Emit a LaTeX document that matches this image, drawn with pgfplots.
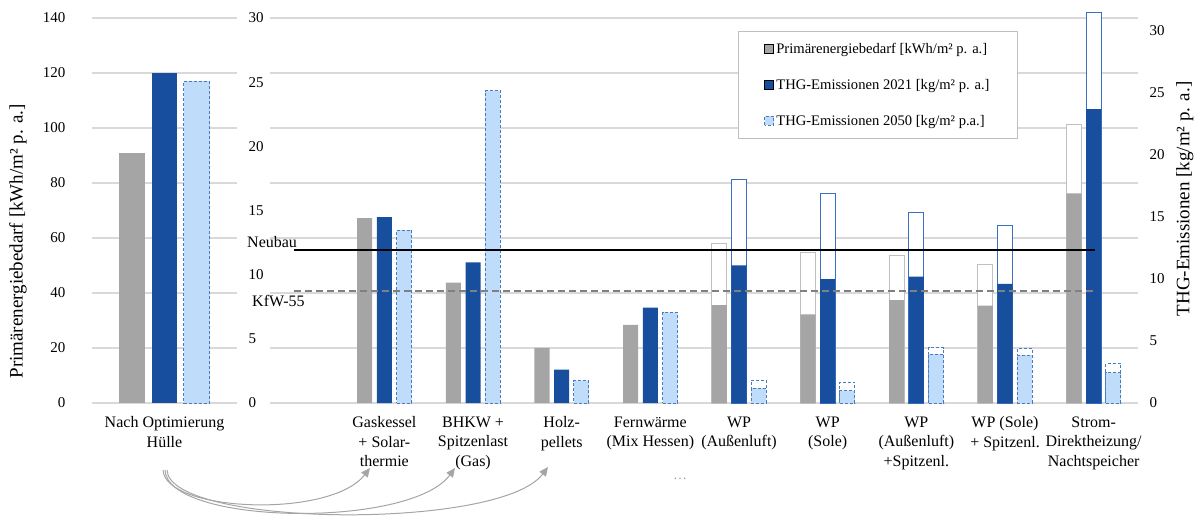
\documentclass[border=0pt]{standalone}
\usepackage{pgfplots}
\pgfplotsset{compat=1.18}
\usepackage{fontspec}
\setmainfont{Liberation Serif}
\usetikzlibrary{arrows.meta}

\definecolor{pgrey}{RGB}{165,165,165}
\definecolor{pblue}{RGB}{24,78,158}
\definecolor{pblueline}{RGB}{58,112,192}
\definecolor{plight}{RGB}{191,221,250}
\definecolor{plightline}{RGB}{72,122,192}
\definecolor{gridc}{RGB}{217,217,217}
\definecolor{arrowc}{RGB}{165,165,165}

\pgfplotsset{
  base/.style={scale only axis, height=385pt, ymin=0,
    /pgf/number format/assume math mode=true,
    major tick length=0pt, tick style={draw=none},
    axis line style={draw=none},
    ticklabel style={font=\fontsize{15}{18}\selectfont},
    grid style={gridc, line width=1.1pt}},
  sgrey/.style={fill=pgrey, draw=none},
  ogrey/.style={fill=white, draw=pgrey!70, line width=1pt, forget plot},
  sblue/.style={fill=pblue, draw=none},
  oblue/.style={fill=white, draw=pblueline, line width=1.2pt, forget plot},
  slight/.style={fill=plight, draw=plightline, line width=1pt, dash pattern=on 3pt off 2pt},
  olight/.style={fill=white, draw=plightline, line width=1pt, dash pattern=on 3pt off 2pt, forget plot},
  sqlegend/.style={legend image code/.code={\draw[##1] (0pt,-4.5pt) rectangle (9pt,4.5pt);}},
}

\begin{document}
\begin{tikzpicture}
\useasboundingbox (0,0) rectangle (1201pt,517pt);

% grid lines of the right part (Primärenergie scale)
\begin{axis}[base, at={(270pt,114pt)}, anchor=south west, width=868pt,
    xmin=0, xmax=1, ymax=140, ytick={0,20,...,140}, yticklabels={},
    ymajorgrids, xtick=\empty]
  \addplot[draw=none] coordinates {(0,0)};
\end{axis}

% inner left scale 0..30
\begin{axis}[base, at={(270pt,114pt)}, anchor=south west, width=868pt,
    xmin=0, xmax=1, ymax=30, ytick={0,5,...,30}, xtick=\empty,
    yticklabel style={anchor=west, xshift=-25pt}]
  \addplot[draw=none] coordinates {(0,0)};
\end{axis}

% left panel
\begin{axis}[base, ybar, at={(92pt,114pt)}, anchor=south west, width=145pt,
    xmin=-0.5, xmax=0.5, ymax=140, ytick={0,20,...,140}, ymajorgrids,
    bar width=0.179,
    xtick={0}, xticklabels={{Nach Optimierung\\Hülle}},
    xticklabel style={align=center, font=\fontsize{16}{19.5}\selectfont, yshift=-10pt},
    yticklabel style={xshift=-23pt},
    ylabel={Primärenergiebedarf [kWh/m² p. a.]},
    ylabel style={at={(axis description cs:-0.51,0.42)}, anchor=center,
      font=\fontsize{19}{22}\selectfont}]
  \addplot[sgrey, bar shift=-0.221] coordinates {(0,91)};
  \addplot[sblue, bar shift=0] coordinates {(0,120)};
  \addplot[slight, bar shift=0.221] coordinates {(0,117)};
\end{axis}

% right part: variants
\begin{axis}[base, ybar, at={(270pt,114pt)}, anchor=south west, width=868pt,
    xmin=-0.29, xmax=9.5, ymax=31.05, ytick={0,5,...,30},
    yticklabel pos=right, yticklabel style={xshift=8pt},
    clip=false, bar width=0.17,
    xtick={1,...,9},
    xticklabels={{Gaskessel\\+ Solar-\\thermie},{BHKW +\\Spitzenlast\\(Gas)},
      {Holz-\\pellets},{Fernwärme\\(Mix Hessen)},{WP\\(Außenluft)},{WP\\(Sole)},
      {WP\\(Außenluft)\\+Spitzenl.},{WP (Sole)\\+ Spitzenl.},
      {Strom-\\Direktheizung/\\Nachtspeicher}},
    xticklabel style={align=center, font=\fontsize{16}{19.5}\selectfont, yshift=-10pt},
    ylabel={THG-Emissionen [kg/m² p. a.]},
    ylabel style={at={(axis description cs:1.054,0.53)}, anchor=center,
      font=\fontsize{19}{22}\selectfont},
    sqlegend,
    legend style={at={(0.539,0.966)}, anchor=north west, draw=black!25,
      line width=1pt, font=\fontsize{14.6}{17}\selectfont,
      row sep=20pt, inner xsep=26pt, inner ysep=10pt},
    legend cell align=left]
  % totals drawn as outlines
  \addplot[ogrey, bar shift=-0.222] coordinates {(5,12.9) (6,12.1) (7,11.9) (8,11.2) (9,22.5)};
  \addplot[oblue, bar shift=0] coordinates {(5,18.0) (6,16.9) (7,15.35) (8,14.3) (9,31.5)};
  \addplot[olight, bar shift=0.222] coordinates {(5,1.85) (6,1.67) (7,4.46) (8,4.38) (9,3.2)};
  % filled parts
  \addplot[sgrey, bar shift=-0.222] coordinates {(1,14.9) (2,9.7) (3,4.45) (4,6.3) (5,7.9) (6,7.15) (7,8.3) (8,7.85) (9,16.9)};
  \addplot[sblue, bar shift=0] coordinates {(1,15.0) (2,11.35) (3,2.7) (4,7.7) (5,11.1) (6,10.0) (7,10.2) (8,9.6) (9,23.7)};
  \addplot[slight, bar shift=0.222] coordinates {(1,13.95) (2,25.2) (3,1.8) (4,7.3) (5,1.2) (6,1.0) (7,3.95) (8,3.87) (9,2.44)};
  % reference levels
  \addplot[sharp plot, black, line width=2pt, forget plot] coordinates {(-0.02,12.3) (9.02,12.3)};
  \addplot[sharp plot, black!50, line width=2pt, dash pattern=on 7pt off 4pt, forget plot] coordinates {(-0.02,9.0) (9.02,9.0)};
  \legend{Primärenergiebedarf [kWh/m² p. a.],THG-Emissionen 2021 [kg/m² p. a.],THG-Emissionen 2050 [kg/m² p.a.]}
\end{axis}

\node[anchor=west, font=\fontsize{16}{19}\selectfont, inner sep=0pt] at (247pt,275pt) {Neubau};
\node[anchor=west, font=\fontsize{16}{19}\selectfont, inner sep=0pt] at (252pt,216pt) {KfW-55};
\node[font=\fontsize{14}{16}\selectfont, text=black!40] at (680pt,38pt) {\dots};

% arrows from the optimised envelope to the variants
\begin{scope}[arrowc, line width=1pt, -{Triangle[width=8pt,length=9pt]}]
  \draw (163pt,47pt) .. controls (165pt,5pt) and (330pt,-2pt) .. (370pt,49pt);
  \draw (165pt,47pt) .. controls (167pt,-8pt) and (410pt,-12pt) .. (455pt,49pt);
  \draw (167pt,47pt) .. controls (169pt,-10pt) and (500pt,-14pt) .. (548pt,50pt);
\end{scope}
\end{tikzpicture}
\end{document}
